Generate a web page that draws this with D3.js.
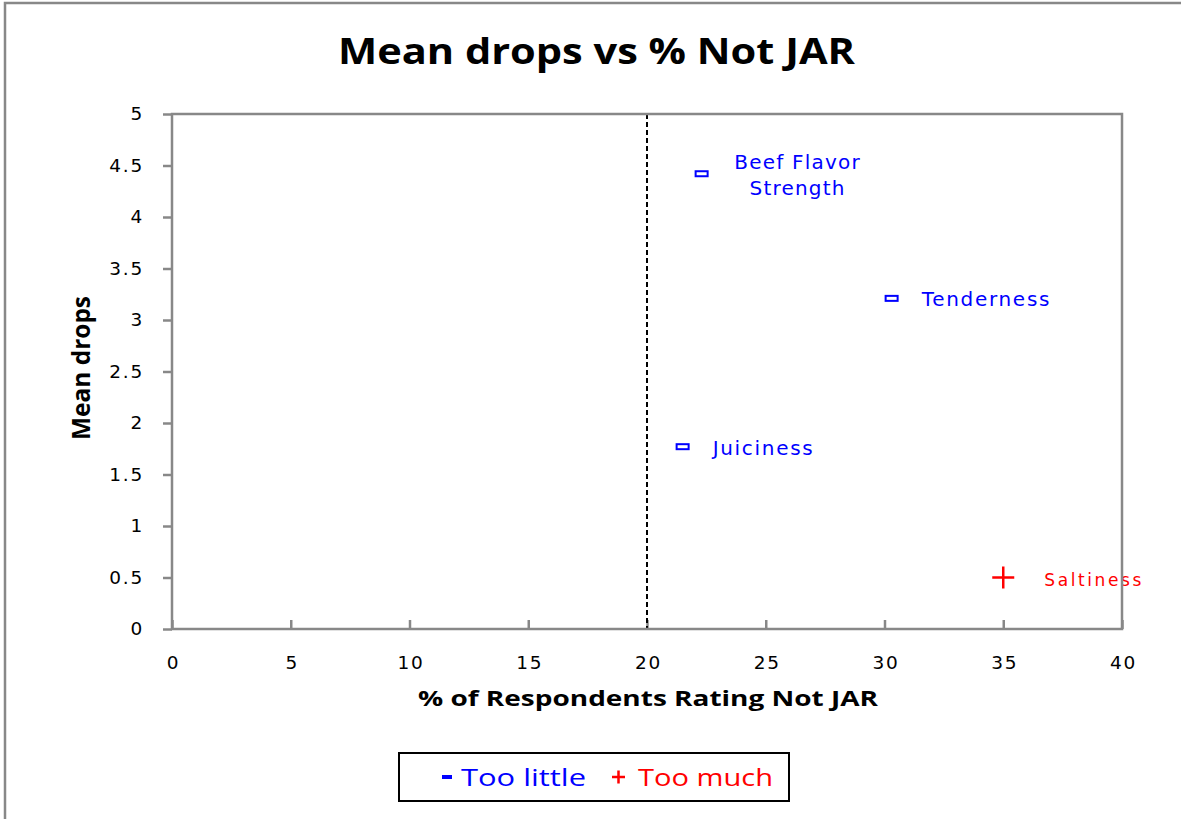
<!DOCTYPE html>
<html><head><meta charset="utf-8">
<script src="https://cdn.jsdelivr.net/npm/d3@7"></script>
<style>html,body{margin:0;padding:0;background:#fff;overflow:hidden}</style>
</head><body>
<svg id="c" width="1181" height="819"></svg>
<script>
const attributes = ["Beef Flavor Strength", "Tenderness", "Juiciness", "Saltiness"];
const labelLines = [["Beef Flavor", "Strength"], ["Tenderness"], ["Juiciness"], ["Saltiness"]];
const pctNotJAR = [22.3, 30.3, 21.5, 35.0];
const meanDrops = [4.42, 3.21, 1.77, 0.50];
const direction = ["little", "little", "little", "much"];
const xTicks = [0, 5, 10, 15, 20, 25, 30, 35, 40];
const yTicks = [0, 0.5, 1, 1.5, 2, 2.5, 3, 3.5, 4, 4.5, 5];
const threshold = [20];
const legendLabels = ["Too little", "Too much"];

const svg = d3.select("#c");
const W = 1181, H = 819;
const L = 172, T = 114, R = 1122, B = 629;
const x = d3.scaleLinear().domain([0, 40]).range([L, R]);
const y = d3.scaleLinear().domain([0, 5]).range([B, T]);
const blue = "#0000ff", red = "#ff0000", grey = "#888888";

// outer frame (only left and top edges are inside the picture)
svg.append("path").attr("d", `M5,${H + 10}V3H${W + 10}`)
  .attr("fill", "none").attr("stroke", grey).attr("stroke-width", 2.5);

// title
svg.append("text").attr("x", 338).attr("y", 64)
  .attr("font-family", "Open Sans").attr("font-weight", "bold").attr("font-size", 35)
  .attr("textLength", 517).attr("lengthAdjust", "spacingAndGlyphs")
  .text("Mean drops vs % Not JAR");

// axes
const fontTick = "DejaVu Sans";
const yAxis = svg.append("g").attr("transform", `translate(${L},0)`)
  .call(d3.axisLeft(y).tickValues(yTicks).tickSize(9).tickPadding(19).tickFormat(d3.format("")));
const xAxis = svg.append("g").attr("transform", `translate(0,${B})`)
  .call(d3.axisBottom(x).tickValues(xTicks).tickSize(9).tickPadding(14).tickFormat(d3.format("")));
[xAxis, yAxis].forEach(a => {
  a.select(".domain").remove();
  a.selectAll(".tick line").attr("stroke", grey).attr("stroke-width", 2.5);
  a.selectAll(".tick text").attr("font-family", fontTick).attr("font-size", 18.5)
    .attr("fill", "#000").attr("letter-spacing", 1.8);
});
xAxis.selectAll(".tick line").attr("y1", -9).attr("y2", 0);
xAxis.selectAll(".tick text").attr("dy", "0.9em").attr("dx", 1);

// threshold line
svg.selectAll(".thr").data(threshold).enter().append("line")
  .attr("x1", d => x(d)).attr("x2", d => x(d)).attr("y1", T).attr("y2", B)
  .attr("stroke", "#000").attr("stroke-width", 2).attr("stroke-dasharray", "5,3");

// data
const data = attributes.map((a, i) => ({a, lines: labelLines[i], x: pctNotJAR[i], y: meanDrops[i], d: direction[i]}));
const little = data.filter(d => d.d === "little");
const much = data.filter(d => d.d === "much");

svg.selectAll(".mk").data(little).enter().append("rect")
  .attr("x", d => x(d.x) - 6).attr("y", d => y(d.y) - 2.5).attr("width", 12).attr("height", 5)
  .attr("fill", "#fff").attr("stroke", blue).attr("stroke-width", 2);
svg.selectAll(".pl").data(much).enter().append("path")
  .attr("d", d => `M${x(d.x) - 11},${y(d.y)}H${x(d.x) + 11}M${x(d.x)},${y(d.y) - 11}V${y(d.y) + 11}`)
  .attr("stroke", red).attr("stroke-width", 2.5).attr("fill", "none");

// labels
const lab = svg.append("g").attr("font-family", fontTick);
data.forEach(d => {
  const px = x(d.x), py = y(d.y);
  if (d.lines.length === 2) {
    const t = lab.append("text").attr("text-anchor", "middle").attr("fill", blue).attr("font-size", 20)
      .attr("letter-spacing", 1.2);
    t.append("tspan").attr("x", px + 96).attr("y", py - 5).text(d.lines[0]);
    t.append("tspan").attr("x", px + 96).attr("y", py + 21).text(d.lines[1]);
  } else if (d.d === "much") {
    lab.append("text").attr("x", px + 41).attr("y", py + 8).attr("fill", red).attr("font-size", 17)
      .attr("letter-spacing", 2.6).text(d.lines[0]);
  } else {
    lab.append("text").attr("x", px + 30).attr("y", py + 8).attr("fill", blue).attr("font-size", 20)
      .attr("letter-spacing", 1.7).text(d.lines[0]);
  }
});

// plot border (drawn over labels)
svg.append("rect").attr("x", L).attr("y", T).attr("width", R - L).attr("height", B - T)
  .attr("fill", "none").attr("stroke", grey).attr("stroke-width", 2.5);

// axis titles
svg.append("text").attr("x", 418).attr("y", 706)
  .attr("font-family", "Open Sans").attr("font-weight", "bold").attr("font-size", 21)
  .attr("textLength", 460).attr("lengthAdjust", "spacingAndGlyphs")
  .text("% of Respondents Rating Not JAR");
svg.append("text").attr("transform", "translate(90,368) rotate(-90)").attr("text-anchor", "middle")
  .attr("font-family", "Open Sans").attr("font-weight", "bold").attr("font-size", 25)
  .attr("textLength", 144).attr("lengthAdjust", "spacingAndGlyphs")
  .text("Mean drops");

// legend
const lg = svg.append("g");
lg.append("rect").attr("x", 399).attr("y", 753).attr("width", 390).attr("height", 48)
  .attr("fill", "#fff").attr("stroke", "#000").attr("stroke-width", 2);
lg.append("rect").attr("x", 442).attr("y", 775).attr("width", 10).attr("height", 4).attr("fill", blue);
lg.append("text").attr("x", 461).attr("y", 786).attr("font-family", "Open Sans").attr("font-size", 24)
  .attr("textLength", 125).attr("lengthAdjust", "spacingAndGlyphs")
  .attr("fill", blue).text(legendLabels[0]);
lg.append("path").attr("d", "M612,777H625M618.5,770.5V783.5").attr("stroke", red).attr("stroke-width", 2.5);
lg.append("text").attr("x", 638).attr("y", 786).attr("font-family", "Open Sans").attr("font-size", 24)
  .attr("textLength", 135).attr("lengthAdjust", "spacingAndGlyphs")
  .attr("fill", red).text(legendLabels[1]);
</script>
</body></html>
